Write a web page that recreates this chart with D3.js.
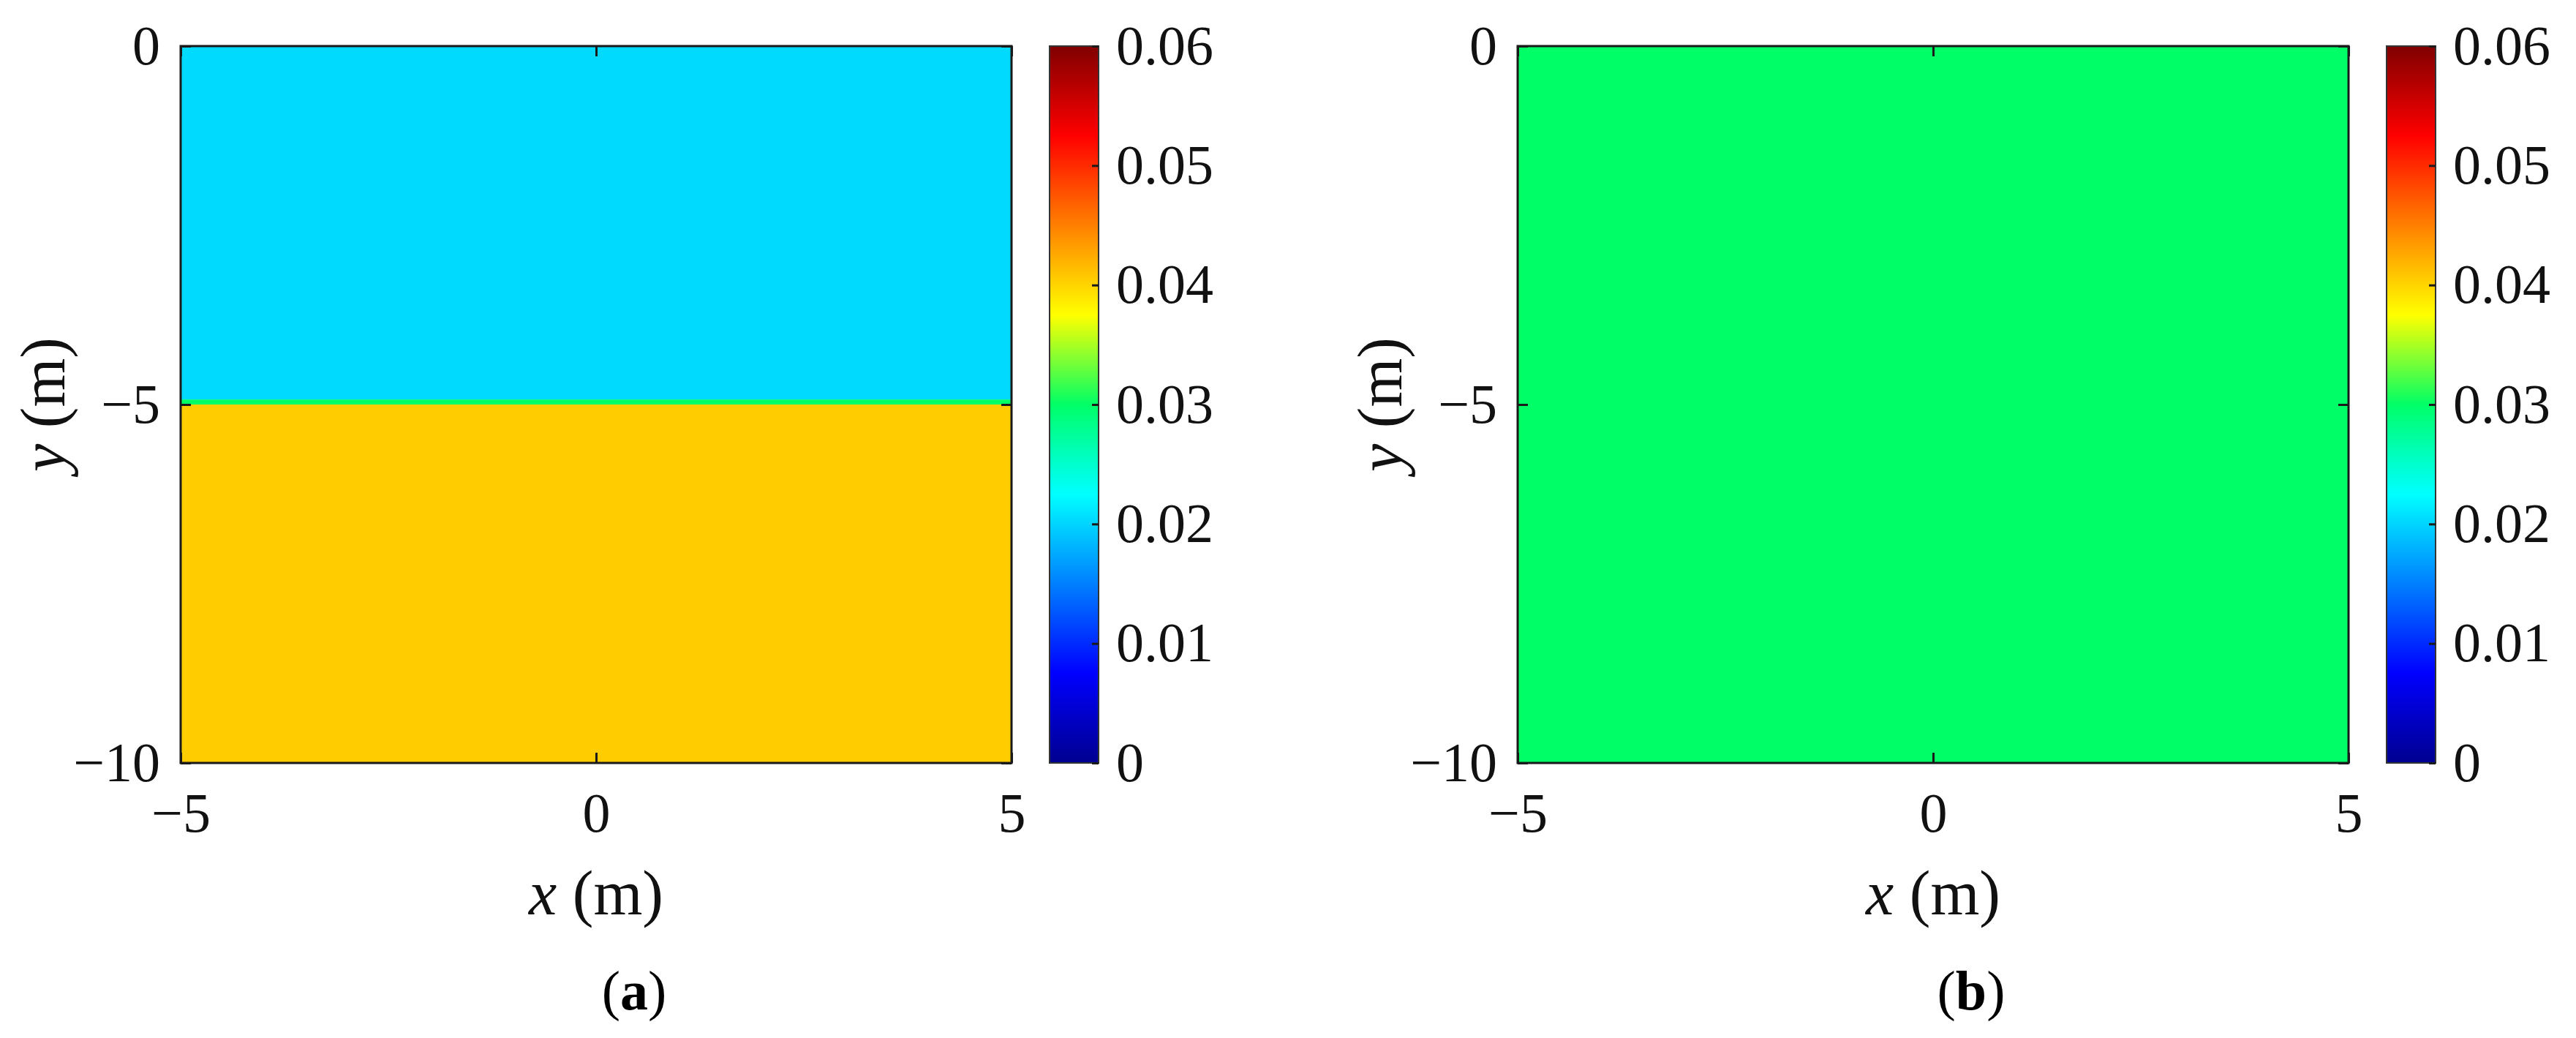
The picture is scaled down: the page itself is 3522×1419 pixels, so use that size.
<!DOCTYPE html>
<meta charset="utf-8">
<script src="https://cdn.jsdelivr.net/npm/d3@7"></script>
<style> body{margin: 0; background: #fff;} </style>
<div id="vis"></div>
<script>
// layers of each panel: [yTop, yBottom, value]
const layersA = [[0, -4.93, 0.0203], [-4.93, -5.0, 0.03], [-5.0, -10, 0.0405]];
const layersB = [[0, -10, 0.03]];
const panels = ["a", "b"];
const xTicks = [-5, 0, 5];
const yTicks = [0, -5, -10];
const cTicks = [0, 0.01, 0.02, 0.03, 0.04, 0.05, 0.06];
// colormap stops
const cStops = [0, 0.0075, 0.0225, 0.03, 0.0375, 0.0525, 0.06];
const cColors = ["#00008f", "#0000ff", "#00ffff", "#00ff66", "#ffff00", "#ff0000", "#800000"];

const W = 3522, H = 1419;
const font = "Liberation Serif, Times New Roman, serif";
const svg = d3.select("#vis").append("svg").attr("width", W).attr("height", H);

const color = d3.scaleLinear().domain(cStops).range(cColors);

function panel(offset, layers, name) {
  const left = 247 + offset, right = 1383 + offset, top = 63, bottom = 1043;
  const x = d3.scaleLinear().domain([-5, 5]).range([left, right]);
  const y = d3.scaleLinear().domain([-10, 0]).range([bottom, top]);
  const g = svg.append("g");

  g.selectAll("rect.cell").data(layers).enter().append("rect")
    .attr("x", x(-5)).attr("width", x(5) - x(-5))
    .attr("y", d => y(d[0])).attr("height", d => y(d[1]) - y(d[0]))
    .attr("fill", d => color(d[2]));

  g.append("rect").attr("x", left).attr("y", top)
    .attr("width", right - left).attr("height", bottom - top)
    .attr("fill", "none").attr("stroke", "#1a1a1a").attr("stroke-width", 3);

  const ax = (sel) => sel.call(s => s.select(".domain").remove())
    .call(s => s.selectAll("line").attr("stroke", "#1a1a1a").attr("stroke-width", 3))
    .call(s => s.selectAll("text").attr("font-family", font).attr("font-size", 76).attr("fill", "#111"));

  g.append("g").attr("transform", `translate(0,${bottom})`)
    .call(d3.axisBottom(x).tickValues(xTicks).tickSize(-14).tickPadding(40).tickFormat(d3.format("d"))).call(ax);
  g.append("g").attr("transform", `translate(0,${top})`)
    .call(d3.axisTop(x).tickValues(xTicks).tickSize(-14).tickFormat("")).call(ax);
  g.append("g").attr("transform", `translate(${left},0)`)
    .call(d3.axisLeft(y).tickValues(yTicks).tickSize(-14).tickPadding(28).tickFormat(d3.format("d"))).call(ax);
  g.append("g").attr("transform", `translate(${right},0)`)
    .call(d3.axisRight(y).tickValues(yTicks).tickSize(-14).tickFormat("")).call(ax);

  // colour bar
  const cl = 1435 + offset, cw = 67;
  const cy = d3.scaleLinear().domain([0, 0.06]).range([bottom, top]);
  const gid = "grad" + name;
  const grad = svg.append("defs").append("linearGradient").attr("id", gid)
    .attr("x1", 0).attr("y1", 1).attr("x2", 0).attr("y2", 0);
  grad.selectAll("stop").data(cStops).enter().append("stop")
    .attr("offset", d => d / 0.06).attr("stop-color", d => color(d));
  g.append("rect").attr("x", cl).attr("y", top).attr("width", cw).attr("height", bottom - top)
    .attr("fill", `url(#${gid})`).attr("stroke", "#333").attr("stroke-width", 2);
  g.append("g").attr("transform", `translate(${cl + cw},0)`)
    .call(d3.axisRight(cy).tickValues(cTicks).tickSize(-9).tickPadding(24).tickFormat(d => d === 0 ? "0" : d3.format(".2f")(d))).call(ax);

  g.append("text").attr("x", (left + right) / 2).attr("y", 1250).attr("text-anchor", "middle")
    .attr("font-family", font).attr("font-size", 86).attr("fill", "#111")
    .html('<tspan font-style="italic">x</tspan> (m)');
  g.append("text").attr("transform", `translate(88,${(top + bottom) / 2}) rotate(-90)`.replace("88", 88 + offset))
    .attr("text-anchor", "middle").attr("font-family", font).attr("font-size", 86).attr("fill", "#111")
    .html('<tspan font-style="italic">y</tspan> (m)');
  g.append("text").attr("x", (left + right) / 2 + 52).attr("y", 1380).attr("text-anchor", "middle")
    .attr("font-family", font).attr("font-size", 76).attr("fill", "#000")
    .html(`(<tspan font-weight="bold">${name}</tspan>)`);
}

panel(0, layersA, panels[0]);
panel(1828, layersB, panels[1]);
</script>
